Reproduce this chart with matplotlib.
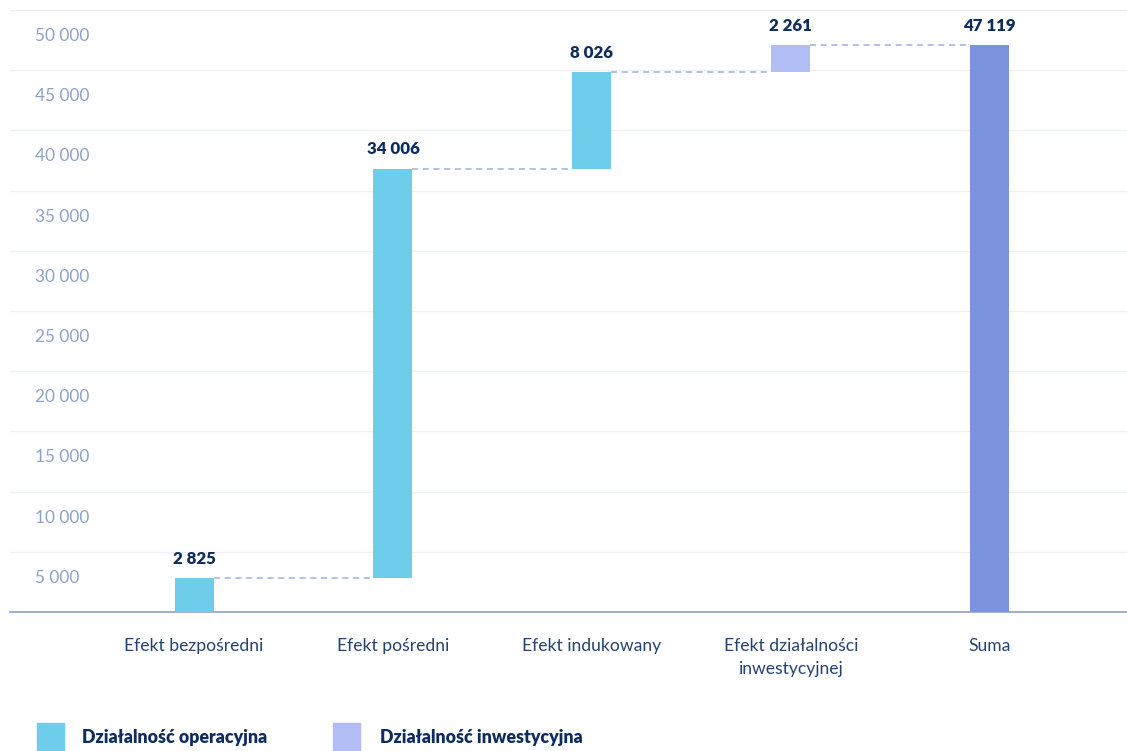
import matplotlib
matplotlib.use("Agg")
import matplotlib.pyplot as plt
from matplotlib.patches import Rectangle
from matplotlib import transforms as mtransforms

plt.rcParams['font.family'] = ['Lato', 'DejaVu Sans']

categories = ["Efekt bezpośredni", "Efekt pośredni", "Efekt indukowany",
              "Efekt działalności\ninwestycyjnej", "Suma"]
values = [2825, 34006, 8026, 2261, 47119]
value_labels = ["2 825", "34 006", "8 026", "2 261", "47 119"]
kinds = ["op", "op", "op", "inv", "sum"]
y_ticks = [5000, 10000, 15000, 20000, 25000, 30000, 35000, 40000, 45000, 50000]
y_tick_labels = ["5 000", "10 000", "15 000", "20 000", "25 000", "30 000",
                 "35 000", "40 000", "45 000", "50 000"]
legend_labels = ["Działalność operacyjna", "Działalność inwestycyjna"]

colors = {"op": "#6fcdec", "inv": "#b3bdf5", "sum": "#7b93dc"}
navy = "#0e2d5e"
tick_col = "#8da2c9"
cat_col = "#24436f"

W, H = 1127, 751
fig = plt.figure(figsize=(W / 100, H / 100), dpi=100)
ax = fig.add_axes([10 / W, (H - 612) / H, (W - 10) / W, (612 - 10) / H])

# waterfall bottoms
bottoms = []
run = 0
for k, v in zip(kinds, values):
    if k == "sum":
        bottoms.append(0)
    else:
        bottoms.append(run)
        run += v

xs = list(range(len(categories)))
bw = 0.196
for x, b, v, k, lab in zip(xs, bottoms, values, kinds, value_labels):
    ax.bar(x, v, bottom=b, width=bw, color=colors[k], zorder=3)
    ax.annotate(lab, (x, b + v), xytext=(0, 8), textcoords="offset points",
                ha="center", va="bottom", fontsize=12.2, fontweight="heavy",
                color=navy, zorder=4, annotation_clip=False)

# connectors
for i in range(len(xs) - 1):
    level = bottoms[i] + values[i]
    ax.plot([xs[i] + bw / 2, xs[i + 1] - bw / 2], [level, level],
            ls=(0, (4, 3)), color="#9fb0d8", lw=1.1, zorder=2)

ax.set_xlim(-0.925, 4.69)
ax.set_ylim(0, 50000)
ax.set_yticks(y_ticks)
ax.set_yticklabels([])
ax.tick_params(axis="y", length=0)
ax.grid(axis="y", color="#eef0f5", lw=1.0, zorder=0)
for s in ["left", "right", "top"]:
    ax.spines[s].set_visible(False)
ax.spines["bottom"].set_color("#8fa0c8")
ax.spines["bottom"].set_linewidth(1.2)

# y tick labels placed below gridlines
trans = mtransforms.blended_transform_factory(ax.transAxes, ax.transData) + \
    mtransforms.ScaledTranslation(0, -26 / 100, fig.dpi_scale_trans)
for t, lab in zip(y_ticks, y_tick_labels):
    ax.text(25 / (W - 10), t, lab, transform=trans, ha="left", va="center",
            fontsize=12.4, color=tick_col)

ax.set_xticks(xs)
ax.set_xticklabels(categories, fontsize=12.6, color=cat_col, linespacing=1.5)
ax.tick_params(axis="x", length=0, pad=19)

# legend
leg_x = [37, 333]
leg_tx = [82, 380]
for i, lab in enumerate(legend_labels):
    col = colors["op"] if i == 0 else colors["inv"]
    fig.add_artist(Rectangle((leg_x[i] / W, 0), 27 / W, 28 / H,
                             transform=fig.transFigure, color=col))
    fig.text(leg_tx[i] / W, (H - 738) / H, lab, ha="left", va="center",
             fontsize=12.8, fontweight="heavy", color=navy)

fig.savefig("out.png", dpi=100)
